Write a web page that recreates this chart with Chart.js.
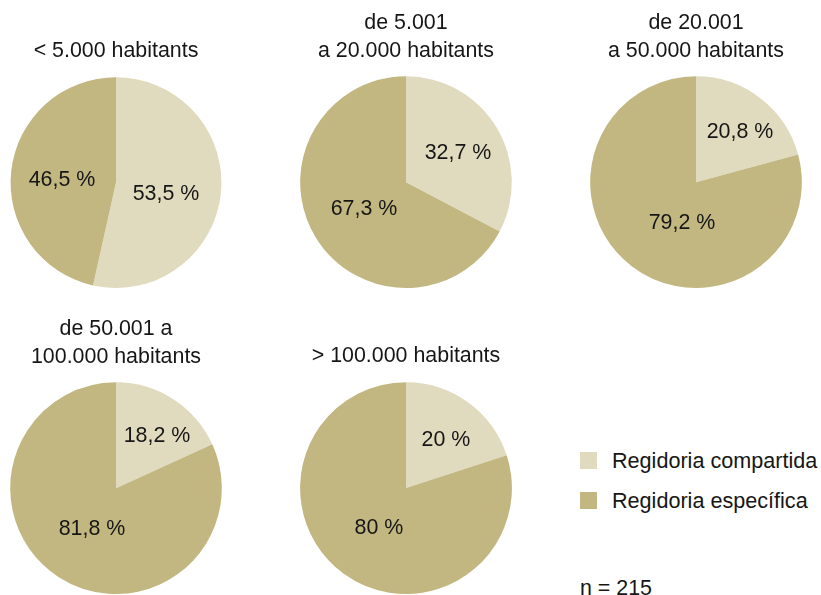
<!DOCTYPE html>
<html>
<head>
<meta charset="utf-8">
<script src="https://cdn.jsdelivr.net/npm/chart.js@4/dist/chart.umd.min.js"></script>
<style>
  html, body { margin: 0; padding: 0; background: #ffffff; }
  body { width: 821px; height: 595px; position: relative; overflow: hidden; font-family: "Liberation Sans", Arial, sans-serif; color: #161616; }
  .box { position: absolute; }
  .legend-item { position: absolute; left: 580px; height: 20px; font-size: 21.6px; line-height: 20px; white-space: nowrap; }
  .legend-item span.sw { position: absolute; left: 0; top: 1px; width: 17px; height: 17px; }
  .legend-item span.tx { position: absolute; left: 32px; top: 0; }
  .note { position: absolute; left: 580px; top: 577px; font-size: 21.4px; line-height: 22px; }
</style>
</head>
<body>
<div id="root"></div>
<div class="legend-item" id="leg0" style="top:451px"><span class="sw"></span><span class="tx"></span></div>
<div class="legend-item" id="leg1" style="top:491px"><span class="sw"></span><span class="tx"></span></div>
<div class="note" id="note"></div>
<script>
// ---- data ----
const categories = ['Regidoria compartida', 'Regidoria específica'];
const groupTitles = [
  ['< 5.000 habitants'],
  ['de 5.001', 'a 20.000 habitants'],
  ['de 20.001', 'a 50.000 habitants'],
  ['de 50.001 a', '100.000 habitants'],
  ['> 100.000 habitants']
];
const sharedValues = [53.5, 32.7, 20.8, 18.2, 20];
const specificValues = [46.5, 67.3, 79.2, 81.8, 80];
const sampleNote = 'n = 215';

// ---- styles / layout ----
const colors = ['#e0dbbe', '#c2b780'];
const FONT = '"Liberation Sans", Arial, sans-serif';
const FS = 21.4;
const layouts = [
  { left: 116, top: 0,   h: 290, padTop: 38, padBot: 12, bottom: 2 },
  { left: 406, top: 0,   h: 290, padTop: 10, padBot: 12, bottom: 2 },
  { left: 696, top: 0,   h: 290, padTop: 10, padBot: 12, bottom: 2 },
  { left: 116, top: 300, h: 295, padTop: 16, padBot: 12, bottom: 1 },
  { left: 406, top: 300, h: 295, padTop: 43, padBot: 12, bottom: 1 }
];
const labelOffsets = [
  [[50, 12], [-54, -2]],
  [[52, -29], [-42, 27]],
  [[44, -50], [-14, 41]],
  [[41, -52], [-24, 41]],
  [[40, -48], [-27, 40]]
];

function fmt(v) { return String(v).replace('.', ',') + ' %'; }

const sliceLabels = {
  id: 'sliceLabels',
  afterDatasetsDraw(chart, args, opts) {
    const ctx = chart.ctx;
    const meta = chart.getDatasetMeta(0);
    const ds = chart.data.datasets[0];
    ctx.save();
    ctx.font = FS + 'px ' + FONT;
    ctx.fillStyle = '#161616';
    ctx.textAlign = 'center';
    ctx.textBaseline = 'middle';
    meta.data.forEach((arc, i) => {
      const off = opts.offsets[i];
      ctx.fillText(fmt(ds.data[i]), arc.x + off[0], arc.y + off[1]);
    });
    ctx.restore();
  }
};

const root = document.getElementById('root');
groupTitles.forEach((title, k) => {
  const L = layouts[k];
  const W = 270;
  const box = document.createElement('div');
  box.className = 'box';
  box.style.left = (L.left - W / 2) + 'px';
  box.style.top = L.top + 'px';
  box.style.width = W + 'px';
  box.style.height = L.h + 'px';
  const cv = document.createElement('canvas');
  cv.width = W; cv.height = L.h;
  cv.style.width = W + 'px'; cv.style.height = L.h + 'px';
  box.appendChild(cv);
  root.appendChild(box);
  new Chart(cv, {
    type: 'pie',
    data: {
      labels: categories,
      datasets: [{
        data: [sharedValues[k], specificValues[k]],
        backgroundColor: colors,
        borderWidth: 0
      }]
    },
    options: {
      responsive: false,
      animation: false,
      devicePixelRatio: 1,
      layout: { padding: { bottom: L.bottom } },
      plugins: {
        legend: { display: false },
        tooltip: { enabled: false },
        title: {
          display: true,
          text: title,
          color: '#161616',
          font: { family: FONT, size: FS, weight: 'normal', lineHeight: 1.27 },
          padding: { top: L.padTop, bottom: L.padBot }
        },
        sliceLabels: { offsets: labelOffsets[k] }
      }
    },
    plugins: [sliceLabels]
  });
});

categories.forEach((c, i) => {
  const el = document.getElementById('leg' + i);
  el.querySelector('.sw').style.background = colors[i];
  el.querySelector('.tx').textContent = c;
});
document.getElementById('note').textContent = sampleNote;
</script>
</body>
</html>
